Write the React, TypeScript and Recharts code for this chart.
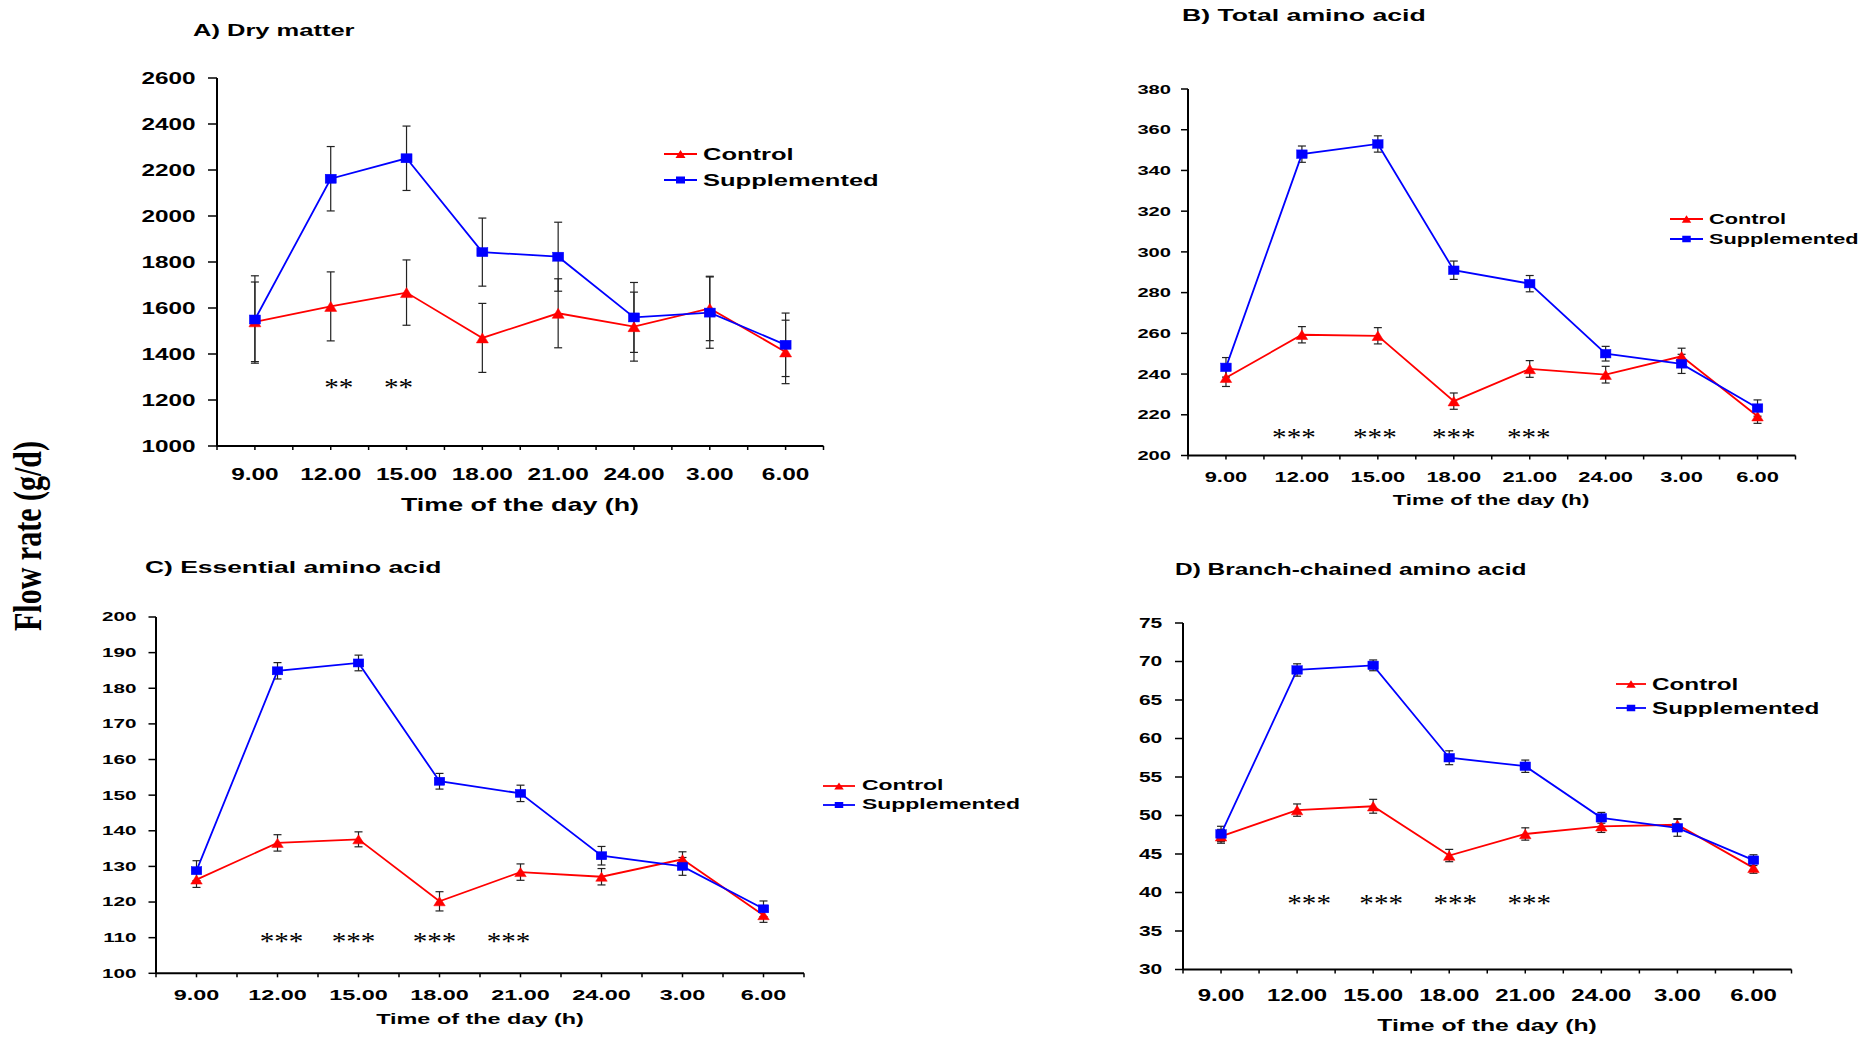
import React from "react";
import { LineChart, Line, XAxis, YAxis, ErrorBar } from "recharts";

const times = ["9.00", "12.00", "15.00", "18.00", "21.00", "24.00", "3.00", "6.00"];

// A) Dry matter
const dmControl = [1540, 1607, 1667, 1470, 1577, 1519, 1598, 1409];
const dmControlSe = [173, 150, 142, 150, 150, 150, 140, 138];
const dmSupp = [1550, 2162, 2251, 1843, 1823, 1559, 1580, 1440];
const dmSuppSe = [190, 140, 140, 148, 150, 152, 155, 138];
const dmTicks = [1000, 1200, 1400, 1600, 1800, 2000, 2200, 2400, 2600];
const dmStars = ["", "**", "**", "", "", "", "", ""];

// B) Total amino acid
const taaControl = [238.2, 259.3, 258.8, 226.7, 242.5, 239.7, 248.7, 219.3];
const taaControlSe = [4.3, 4, 4, 4, 4.1, 4.1, 4, 3.5];
const taaSupp = [243.3, 348, 353, 291, 284.4, 250, 245, 223.3];
const taaSuppSe = [4.8, 4, 4, 4.5, 4, 3.6, 4.7, 4];
const taaTicks = [200, 220, 240, 260, 280, 300, 320, 340, 360, 380];
const taaStars = ["", "***", "***", "***", "***", "", "", ""];

// C) Essential amino acid
const eaaControl = [126.3, 136.6, 137.6, 120.2, 128.4, 127.1, 132, 116.3];
const eaaControlSe = [2.2, 2.3, 2.1, 2.7, 2.3, 2.3, 2.1, 2];
const eaaSupp = [128.8, 184.9, 187.1, 153.9, 150.5, 133, 130, 118.1];
const eaaSuppSe = [2.8, 2.3, 2.2, 2.2, 2.3, 2.6, 2.5, 2.2];
const eaaTicks = [100, 110, 120, 130, 140, 150, 160, 170, 180, 190, 200];
const eaaStars = ["", "***", "***", "***", "***", "", "", ""];

// D) Branch-chained amino acid
const bcaaControl = [47.3, 50.7, 51.2, 44.8, 47.6, 48.6, 48.8, 43.2];
const bcaaControlSe = [0.9, 0.8, 0.9, 0.8, 0.8, 0.8, 0.8, 0.7];
const bcaaSupp = [47.6, 68.9, 69.5, 57.5, 56.4, 49.7, 48.4, 44.2];
const bcaaSuppSe = [1.0, 0.8, 0.7, 0.9, 0.8, 0.7, 1.1, 0.7];
const bcaaTicks = [30, 35, 40, 45, 50, 55, 60, 65, 70, 75];
const bcaaStars = ["", "***", "***", "***", "***", "", "", ""];

const FONT = '"Liberation Sans", Arial, sans-serif';
const SERIF = '"Liberation Serif", "Times New Roman", serif';
const RED = "#ff0000";
const BLUE = "#0000ff";

// tick marks at every category and between categories
const halfTicks: number[] = [];
for (let i = 0; i <= times.length * 2; i++) halfTicks.push(i / 2 - 0.5);

const triPath = (cx: number, cy: number, w: number, h: number) =>
  `M${cx},${cy - h / 2} L${cx + w / 2},${cy + h / 2} L${cx - w / 2},${cy + h / 2} Z`;

const Txt = ({ left, top, fs, sx, mid, children, family = FONT }: any) => (
  <div
    style={{
      position: "absolute",
      left,
      top,
      fontSize: fs,
      fontFamily: family,
      fontWeight: "bold",
      lineHeight: 1,
      whiteSpace: "nowrap",
      color: "#000",
      transformOrigin: mid ? "center center" : "left center",
      transform: mid ? `translate(-50%,-50%) scaleX(${sx})` : `translateY(-50%) scaleX(${sx})`,
    }}
  >
    {children}
  </div>
);

const Panel = (p: any) => {
  const data = times.map((t, i) => ({
    x: i,
    ctrl: p.ctrl[i],
    ctrlSe: p.ctrlSe[i],
    supp: p.supp[i],
    suppSe: p.suppSe[i],
    star: p.stars[i] ? p.starLevel : null,
  }));
  const YW = 100;
  const W = p.right - p.axisX + YW + 10;
  const H = p.bottom - p.top + 20 + 45;
  const mw = p.mw;
  const mh = p.mh;

  const xTick = (props: any) => {
    const { x, y, payload } = props;
    const v = payload.value;
    if (!Number.isInteger(v)) return <g />;
    return (
      <text
        x={0}
        y={0}
        dy="0.71em"
        textAnchor="middle"
        transform={`translate(${x},${y}) scale(${p.sx},1)`}
        fontSize={p.xTickFs}
        fontWeight="bold"
        fontFamily={FONT}
        fill="#000"
      >
        {times[v]}
      </text>
    );
  };

  const yTick = (props: any) => {
    const { x, y, payload } = props;
    return (
      <text
        x={0}
        y={0}
        dy="0.355em"
        textAnchor="end"
        transform={`translate(${x},${y}) scale(${p.sx},1)`}
        fontSize={p.yTickFs}
        fontWeight="bold"
        fontFamily={FONT}
        fill="#000"
      >
        {payload.value}
      </text>
    );
  };

  const starLabel = (lp: any) => {
    const { x, y, index } = lp;
    if (!p.stars[index] || y == null) return null;
    const dx = p.starDx[index] || 0;
    return (
      <text
        key={`s${index}`}
        x={0}
        y={0}
        dy="0.47em"
        textAnchor="middle"
        transform={`translate(${x + dx},${y}) scale(1.12,1)`}
        fontSize={26}
        fontFamily={SERIF}
        fill="#000"
      >
        {p.stars[index]}
      </text>
    );
  };

  const triDot = (dp: any) => (
    <path key={`t${dp.index}`} d={triPath(dp.cx, dp.cy, mw + 1, mh + 1)} fill={RED} stroke={RED} strokeWidth={0.5} />
  );
  const sqDot = (dp: any) => (
    <rect key={`q${dp.index}`} x={dp.cx - mw / 2} y={dp.cy - mh / 2} width={mw} height={mh} fill={BLUE} stroke={BLUE} strokeWidth={0.5} />
  );

  const cx = (p.axisX + p.right) / 2;
  const lg = p.legend;

  return (
    <>
      <div style={{ position: "absolute", left: p.axisX - YW, top: p.top - 20 }}>
        <LineChart width={W} height={H} data={data} margin={{ top: 20, right: 10, left: 0, bottom: 0 }}>
          <XAxis
            type="number"
            dataKey="x"
            domain={[-0.5, times.length - 0.5]}
            ticks={halfTicks}
            interval={0}
            height={45}
            axisLine={{ stroke: "#000", strokeWidth: 2 }}
            tickLine={{ stroke: "#000", strokeWidth: 1.5 }}
            tickSize={4}
            tickMargin={p.xTickMargin}
            tick={xTick}
          />
          <YAxis
            type="number"
            domain={[p.yTicks[0], p.yTicks[p.yTicks.length - 1]]}
            ticks={p.yTicks}
            interval={0}
            width={YW}
            axisLine={{ stroke: "#000", strokeWidth: 2 }}
            tickLine={{ stroke: "#000", strokeWidth: 1.5 }}
            tickSize={p.yTickSize}
            tickMargin={p.yTickMargin}
            tick={yTick}
          />
          <Line
            dataKey="ctrl"
            stroke={RED}
            strokeWidth={1.8}
            dot={triDot}
            activeDot={false}
            isAnimationActive={false}
          >
            <ErrorBar dataKey="ctrlSe" direction="y" width={4} stroke="#222" strokeWidth={1.2} isAnimationActive={false} />
          </Line>
          <Line
            dataKey="supp"
            stroke={BLUE}
            strokeWidth={1.8}
            dot={sqDot}
            activeDot={false}
            isAnimationActive={false}
          >
            <ErrorBar dataKey="suppSe" direction="y" width={4} stroke="#222" strokeWidth={1.2} isAnimationActive={false} />
          </Line>
          <Line
            dataKey="star"
            stroke="none"
            dot={false}
            activeDot={false}
            label={starLabel}
            isAnimationActive={false}
          />
        </LineChart>
      </div>
      <Txt left={p.title.x} top={p.title.y} fs={p.title.fs} sx={p.sx}>
        {p.title.text}
      </Txt>
      <Txt left={cx} top={p.axisTitle.y} fs={p.axisTitle.fs} sx={p.sx} mid>
        Time of the day (h)
      </Txt>
      {[
        { name: "Control", color: RED, tri: true },
        { name: "Supplemented", color: BLUE, tri: false },
      ].map((s, k) => (
        <React.Fragment key={s.name}>
          <svg
            width={lg.len}
            height={14}
            style={{ position: "absolute", left: lg.x, top: lg.rows[k] - 7 }}
          >
            <line x1={0} y1={7} x2={lg.len} y2={7} stroke={s.color} strokeWidth={1.8} />
            {s.tri ? (
              <path d={triPath(lg.len / 2, 7, mw - 1, mh - 1)} fill={s.color} />
            ) : (
              <rect x={lg.len / 2 - (mw - 2) / 2} y={7 - (mh - 2) / 2} width={mw - 2} height={mh - 2} fill={s.color} />
            )}
          </svg>
          <Txt left={lg.textX} top={lg.rows[k]} fs={lg.fs} sx={p.sx}>
            {s.name}
          </Txt>
        </React.Fragment>
      ))}
    </>
  );
};

export default function App() {
  return (
    <div
      style={{
        position: "absolute",
        left: 0,
        top: 0,
        width: 1865,
        height: 1038,
        background: "#fff",
        overflow: "hidden",
      }}
    >
      <Panel
        ctrl={dmControl}
        ctrlSe={dmControlSe}
        supp={dmSupp}
        suppSe={dmSuppSe}
        yTicks={dmTicks}
        stars={dmStars}
        starLevel={1272}
        starDx={[0, 8, -8, 0, 0, 0, 0, 0]}
        axisX={216.5}
        top={78}
        bottom={446}
        right={823}
        sx={1.5}
        yTickFs={16.2}
        xTickFs={16.3}
        yTickSize={9}
        yTickMargin={12.5}
        xTickMargin={18}
        mw={11}
        mh={9}
        title={{ x: 193, y: 30.4, fs: 17, text: "A) Dry matter" }}
        axisTitle={{ y: 505.7, fs: 17.9 }}
        legend={{ x: 664, len: 33, textX: 703, rows: [153.7, 180], fs: 17 }}
      />
      <Panel
        ctrl={taaControl}
        ctrlSe={taaControlSe}
        supp={taaSupp}
        suppSe={taaSuppSe}
        yTicks={taaTicks}
        stars={taaStars}
        starLevel={210.5}
        starDx={[0, -8, -3, 0, -1, 0, 0, 0]}
        axisX={1187.5}
        top={88.9}
        bottom={455.4}
        right={1795}
        sx={1.55}
        yTickFs={13}
        xTickFs={14.1}
        yTickSize={7}
        yTickMargin={10}
        xTickMargin={12}
        mw={10.5}
        mh={8.5}
        title={{ x: 1182, y: 15.5, fs: 17.2, text: "B) Total amino acid" }}
        axisTitle={{ y: 500, fs: 14.3 }}
        legend={{ x: 1670, len: 33, textX: 1709, rows: [219, 239], fs: 14 }}
      />
      <Panel
        ctrl={eaaControl}
        ctrlSe={eaaControlSe}
        supp={eaaSupp}
        suppSe={eaaSuppSe}
        yTicks={eaaTicks}
        stars={eaaStars}
        starLevel={110}
        starDx={[0, 4, -5, -5, -12, 0, 0, 0]}
        axisX={156}
        top={617}
        bottom={973.3}
        right={804}
        sx={1.65}
        yTickFs={12.5}
        xTickFs={14.2}
        yTickSize={7.5}
        yTickMargin={12}
        xTickMargin={12.7}
        mw={10.5}
        mh={8}
        title={{ x: 144.6, y: 567.7, fs: 16, text: "C) Essential amino acid" }}
        axisTitle={{ y: 1018.6, fs: 14.2 }}
        legend={{ x: 823, len: 32, textX: 862, rows: [786, 805], fs: 13.9 }}
      />
      <Panel
        ctrl={bcaaControl}
        ctrlSe={bcaaControlSe}
        supp={bcaaSupp}
        suppSe={bcaaSuppSe}
        yTicks={bcaaTicks}
        stars={bcaaStars}
        starLevel={39}
        starDx={[0, 12, 8, 6, 4, 0, 0, 0]}
        axisX={1182.5}
        top={622.5}
        bottom={969}
        right={1791}
        sx={1.5}
        yTickFs={14}
        xTickFs={16}
        yTickSize={8}
        yTickMargin={12.7}
        xTickMargin={16.3}
        mw={10.5}
        mh={8.5}
        title={{ x: 1174.7, y: 569, fs: 16.3, text: "D) Branch-chained amino acid" }}
        axisTitle={{ y: 1025, fs: 16.5 }}
        legend={{ x: 1616, len: 30, textX: 1652, rows: [684, 708], fs: 16.2 }}
      />
      <div
        style={{
          position: "absolute",
          left: 28,
          top: 536,
          fontFamily: SERIF,
          fontWeight: "bold",
          fontSize: 30,
          lineHeight: 1,
          whiteSpace: "nowrap",
          color: "#000",
          transformOrigin: "center center",
          transform: "translate(-50%,-50%) scaleX(1.3) rotate(-90deg)",
        }}
      >
        Flow rate (g/d)
      </div>
    </div>
  );
}
